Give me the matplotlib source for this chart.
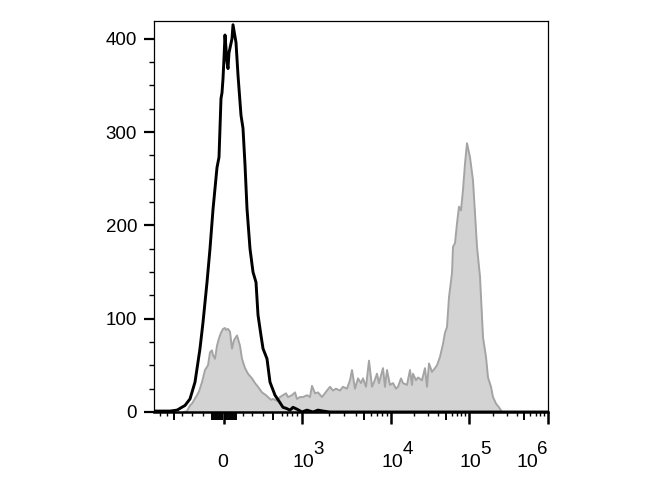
import numpy as np
import matplotlib
matplotlib.use('Agg')
import matplotlib.pyplot as plt
from matplotlib.ticker import FixedLocator, NullFormatter

plt.rcParams['font.family'] = ['Liberation Sans', 'DejaVu Sans']

# x values are display channels across the axis (0 = left edge, 394 = 10^6)
# stained sample (grey filled histogram)
stained_ch = [30, 33, 36, 38, 43, 45, 48, 51, 54, 56, 58, 59, 61, 63, 65, 67, 69, 71, 72, 74,
              76, 78, 80, 83, 86, 88, 91, 94, 98, 101, 104, 108, 112, 114, 117, 119, 123, 126, 129, 132,
              134, 138, 141, 143, 146, 149, 153, 156, 158, 161, 164, 168, 173, 176, 179, 182, 186, 189, 193, 196,
              198, 201, 204, 207, 209, 212, 215, 218, 220, 223, 225, 229, 231, 233, 236, 239, 242, 244, 247, 249,
              253, 256, 258, 259, 262, 264, 268, 271, 273, 275, 278, 281, 283, 286, 289, 291, 293, 295, 298, 299,
              301, 303, 305, 307, 309, 311, 313, 316, 319, 321, 323, 326, 328, 329, 332, 334, 337, 339, 342, 345,
              348]
stained_counts = [0, 1, 7, 9, 18, 22, 32, 45, 50, 64, 66, 61, 57, 71, 79, 85, 89, 90, 88, 89,
                  86, 68, 77, 82, 71, 57, 47, 41, 36, 31, 27, 21, 18, 16, 13, 14, 12, 16, 18, 20,
                  16, 18, 21, 14, 16, 16, 18, 16, 28, 20, 21, 16, 23, 27, 23, 25, 23, 27, 25, 34,
                  45, 25, 36, 31, 36, 27, 55, 27, 32, 41, 31, 47, 27, 45, 29, 31, 25, 27, 36, 31,
                  29, 45, 29, 41, 34, 37, 34, 47, 27, 52, 43, 47, 50, 59, 73, 85, 91, 123, 149, 177,
                  181, 202, 220, 216, 238, 266, 288, 273, 248, 213, 177, 145, 102, 80, 59, 37, 27, 16, 9, 5,
                  0]

# isotype / unstained control (black outline)
control_ch = [0, 16, 23, 31, 36, 41, 46, 49, 53, 56, 59, 63, 65, 67, 68, 69, 70, 71, 73, 74,
              75, 78, 79, 82, 84, 87, 89, 91, 93, 96, 99, 102, 104, 107, 109, 113, 116, 121, 126, 129,
              132, 136, 139, 143, 148, 153, 159, 164, 169, 176, 394]
control_counts = [1, 1, 2, 7, 14, 32, 68, 96, 139, 175, 217, 262, 273, 336, 342, 357, 379, 404, 375, 368,
                  385, 400, 415, 396, 361, 318, 304, 265, 218, 175, 150, 139, 104, 82, 68, 57, 32, 18, 10, 5,
                  4, 2, 5, 3, 0, 2, 0, 2, 1, 0, 0]

decade_ch = [70, 148, 237, 315, 394]
decade_exp = ['', '3', '4', '5', '6']
y_major = [0, 100, 200, 300, 400]

fig = plt.figure(figsize=(6.7, 5), dpi=100)
ax = fig.add_axes([154 / 670, 88 / 500, 394 / 670, 391 / 500])

ax.fill_between(stained_ch, stained_counts, color='#d3d3d3', lw=0)
ax.plot(stained_ch, stained_counts, color='#a4a4a4', lw=1.4)
ax.plot(control_ch, control_counts, color='black', lw=2.1)

ax.set_xlim(0, 394)
ax.set_ylim(0, 419)

# y axis
ax.yaxis.set_major_locator(FixedLocator(y_major))
ax.yaxis.set_minor_locator(FixedLocator(np.arange(25, 400, 25)))
ax.tick_params(axis='y', which='major', length=7.2, width=1.6, pad=5, labelsize=13.5)
ax.tick_params(axis='y', which='minor', length=3.6, width=1)

# x axis: biexponential-style ticks
minor = [6, 13, 28, 38, 49, 89, 98, 109, 128, 133, 138, 143]
medium = [20, 119, 58, 60, 62, 64, 66, 68, 72, 74, 76, 78, 80, 82]
for start, end in zip(decade_ch[1:-1], decade_ch[2:]):
    for m in range(2, 10):
        pos = start + (end - start) * np.log10(m)
        if m == 5:
            medium.append(pos)
        else:
            minor.append(pos)

ax.xaxis.set_major_locator(FixedLocator(decade_ch))
ax.xaxis.set_major_formatter(NullFormatter())
ax.xaxis.set_minor_locator(FixedLocator(minor))
ax.tick_params(axis='x', which='major', length=8.6, width=1.8)
ax.tick_params(axis='x', which='minor', length=3.2, width=1)

sec = ax.secondary_xaxis('bottom')
sec.set_xticks(medium)
sec.tick_params(axis='x', length=5.8, width=1.4, labelbottom=False)
sec.spines['bottom'].set_visible(False)

for s in ['top', 'right', 'left']:
    ax.spines[s].set_linewidth(0.9)
ax.spines['bottom'].set_linewidth(1.8)

# decade labels: 0, 10^3 ... 10^6
xt = ax.get_xaxis_transform()
for i, (pos, e) in enumerate(zip(decade_ch, decade_exp)):
    if e == '':
        ax.text(pos - 1, -0.1407, '0', transform=xt, ha='center', va='baseline', fontsize=14)
        continue
    base_x = pos + 1 if i < len(decade_ch) - 1 else pos - 21
    ax.text(base_x, -0.1407, '10', transform=xt, ha='center', va='baseline', fontsize=14)
    ax.text(base_x + 10.5, -0.108, e, transform=xt, ha='left', va='baseline', fontsize=13.5)

fig.savefig('out.png', dpi=100)
